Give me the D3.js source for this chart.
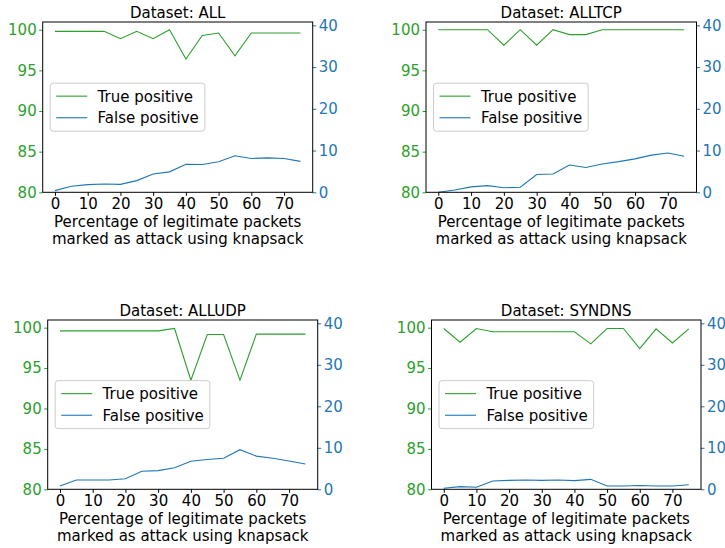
<!DOCTYPE html>
<html>
<head>
<meta charset="utf-8">
<script src="https://cdn.jsdelivr.net/npm/d3@7"></script>
<style>
  body { margin: 0; background: #fff; }
  svg { font-family: "DejaVu Sans", sans-serif; }
</style>
</head>
<body>
<div id="chart"></div>
<script>
// x values: percentage of legitimate packets marked as attack
const pct = [0, 5, 10, 15, 20, 25, 30, 35, 40, 45, 50, 55, 60, 65, 70, 75];

// dataset names
const datasets = ["ALL", "ALLTCP", "ALLUDP", "SYNDNS"];

// true positive (left axis)
const tpAll    = [99.8, 99.8, 99.8, 99.8, 98.9, 99.8, 98.9, 100, 96.4, 99.3, 99.6, 96.8, 99.6, 99.6, 99.6, 99.6];
const tpAllTcp = [100, 100, 100, 100, 98.1, 100, 98.1, 100, 99.4, 99.4, 100, 100, 100, 100, 100, 100];
const tpAllUdp = [99.6, 99.6, 99.6, 99.6, 99.6, 99.6, 99.6, 99.9, 93.5, 99.15, 99.15, 93.5, 99.2, 99.2, 99.2, 99.2];
const tpSynDns = [99.9, 98.2, 99.9, 99.5, 99.5, 99.5, 99.5, 99.5, 99.5, 98.0, 99.9, 99.9, 97.4, 99.85, 98.1, 99.85];

// false positive (right axis)
const fpAll    = [0.4, 1.45, 1.85, 2.0, 1.9, 2.8, 4.4, 4.9, 6.7, 6.65, 7.3, 8.75, 8.1, 8.25, 8.1, 7.4];
const fpAllTcp = [0, 0.55, 1.3, 1.6, 1.1, 1.2, 4.25, 4.4, 6.55, 5.95, 6.8, 7.35, 8.0, 8.9, 9.4, 8.65];
const fpAllUdp = [0.8, 2.25, 2.25, 2.25, 2.55, 4.35, 4.5, 5.2, 6.75, 7.2, 7.5, 9.55, 8.0, 7.5, 6.8, 6.1];
const fpSynDns = [0.25, 0.65, 0.5, 2.0, 2.15, 2.25, 2.15, 2.25, 2.1, 2.4, 0.8, 0.8, 0.9, 0.8, 0.8, 1.1];

const tpSeries = [tpAll, tpAllTcp, tpAllUdp, tpSynDns];
const fpSeries = [fpAll, fpAllTcp, fpAllUdp, fpSynDns];

const xTicks = [0, 10, 20, 30, 40, 50, 60, 70];
const leftTicks = [80, 85, 90, 95, 100];
const rightTicks = [0, 10, 20, 30, 40];

const green = "#2ca02c";
const blue = "#1f77b4";
const fontSize = 15;

const width = 725, height = 548;

// plot area boxes for the 2x2 grid
const boxes = [
  { left: 42.7, right: 312.7, top: 22, bottom: 192.3 },
  { left: 426, right: 696.5, top: 22, bottom: 192.3 },
  { left: 47.7, right: 317.7, top: 320, bottom: 489.3 },
  { left: 431.5, right: 701, top: 320, bottom: 489.3 }
];

const svg = d3.select("#chart")
  .append("svg")
  .attr("width", width)
  .attr("height", height)
  .attr("viewBox", [0, 0, width, height]);

datasets.forEach((name, i) => {
  const b = boxes[i];
  const g = svg.append("g");

  const x = d3.scaleLinear().domain([-3.75, 78.75]).range([b.left, b.right]);
  const yL = d3.scaleLinear().domain([80, 100.95]).range([b.bottom, b.top]);
  const yR = d3.scaleLinear().domain([0, 40.8]).range([b.bottom, b.top]);

  // lines
  const lineL = d3.line().x((d, j) => x(pct[j])).y(d => yL(d));
  const lineR = d3.line().x((d, j) => x(pct[j])).y(d => yR(d));

  g.append("path")
    .attr("d", lineL(tpSeries[i]))
    .attr("fill", "none")
    .attr("stroke", green)
    .attr("stroke-width", 1.1);

  g.append("path")
    .attr("d", lineR(fpSeries[i]))
    .attr("fill", "none")
    .attr("stroke", blue)
    .attr("stroke-width", 1.1);

  // axes
  const xAxis = g.append("g")
    .attr("transform", `translate(0,${b.bottom})`)
    .call(d3.axisBottom(x).tickValues(xTicks).tickSize(3.5).tickPadding(3));
  xAxis.select(".domain").remove();
  xAxis.selectAll("text").attr("font-size", fontSize).attr("fill", "#000")
    .attr("font-family", "DejaVu Sans");

  const leftAxis = g.append("g")
    .attr("transform", `translate(${b.left},0)`)
    .call(d3.axisLeft(yL).tickValues(leftTicks).tickSize(3.5).tickPadding(2.5));
  leftAxis.select(".domain").remove();
  leftAxis.selectAll("line").attr("stroke", green);
  leftAxis.selectAll("text").attr("font-size", fontSize).attr("fill", green)
    .attr("font-family", "DejaVu Sans");

  const rightAxis = g.append("g")
    .attr("transform", `translate(${b.right},0)`)
    .call(d3.axisRight(yR).tickValues(rightTicks).tickSize(3.5).tickPadding(2.5));
  rightAxis.select(".domain").remove();
  rightAxis.selectAll("line").attr("stroke", blue);
  rightAxis.selectAll("text").attr("font-size", fontSize).attr("fill", blue)
    .attr("font-family", "DejaVu Sans");

  // frame
  g.append("rect")
    .attr("x", b.left)
    .attr("y", b.top)
    .attr("width", b.right - b.left)
    .attr("height", b.bottom - b.top)
    .attr("fill", "none")
    .attr("stroke", "#000")
    .attr("stroke-width", 1);

  // title
  g.append("text")
    .attr("x", (b.left + b.right) / 2)
    .attr("y", b.top - 4)
    .attr("text-anchor", "middle")
    .attr("font-size", fontSize)
    .text("Dataset: " + name);

  // x label, two lines
  const cx = (b.left + b.right) / 2;
  g.append("text")
    .attr("x", cx).attr("y", b.bottom + 34.2)
    .attr("text-anchor", "middle")
    .attr("font-size", fontSize)
    .text("Percentage of legitimate packets");
  g.append("text")
    .attr("x", cx).attr("y", b.bottom + 51.7)
    .attr("text-anchor", "middle")
    .attr("font-size", fontSize)
    .text("marked as attack using knapsack");

  // legend (center left)
  const lg = g.append("g");
  const box = lg.append("rect")
    .attr("fill", "#fff")
    .attr("fill-opacity", 0.8)
    .attr("stroke", "#ccc")
    .attr("stroke-width", 1)
    .attr("rx", 3);
  const midY = (b.top + b.bottom) / 2;
  const lx = b.left + 7.5;
  const entries = [["True positive", green], ["False positive", blue]];
  let maxW = 0;
  entries.forEach(([label, color], k) => {
    const ry = midY - 11 + k * 21.6;
    lg.append("line")
      .attr("x1", lx + 6).attr("x2", lx + 37)
      .attr("y1", ry).attr("y2", ry)
      .attr("stroke", color).attr("stroke-width", 1.1);
    const t = lg.append("text")
      .attr("x", lx + 47.4)
      .attr("y", ry)
      .attr("dy", "0.36em")
      .attr("font-size", fontSize)
      .text(label);
    maxW = Math.max(maxW, t.node().getComputedTextLength());
  });
  box.attr("x", lx)
    .attr("y", midY - 24)
    .attr("width", 47.4 + maxW + 6)
    .attr("height", 48);
});
</script>
</body>
</html>
